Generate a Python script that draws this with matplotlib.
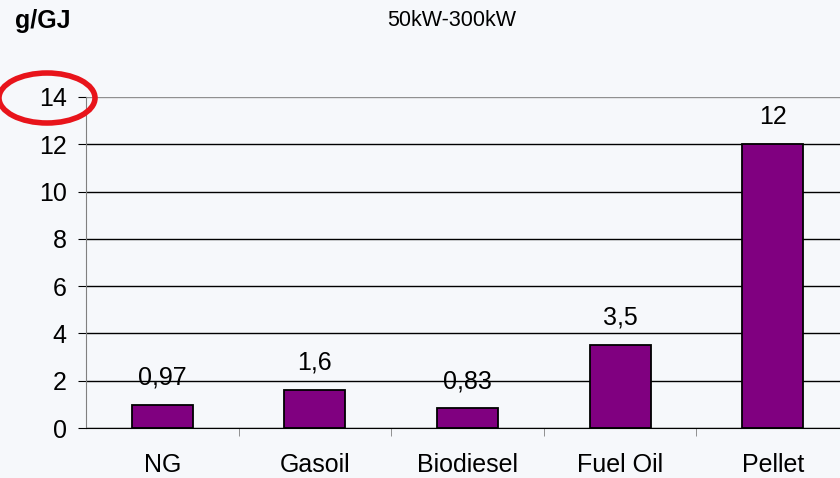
import matplotlib.pyplot as plt
from matplotlib.patches import Ellipse

# ===== data =====
fuels = ["NG", "Gasoil", "Biodiesel", "Fuel Oil", "Pellet"]
values = [0.97, 1.6, 0.83, 3.5, 12]
value_labels = [f"{v:g}".replace(".", ",") for v in values]
y_ticks = [0, 2, 4, 6, 8, 10, 12, 14]

plt.rcParams['font.family'] = ['Liberation Sans', 'DejaVu Sans']
FS = 18

W, H = 840, 478
fig = plt.figure(figsize=(W / 100, H / 100), dpi=100, facecolor='#f6f8fb')
ax = fig.add_axes([86 / W, 1 - 428 / H, (849 - 86) / W, (428 - 97) / H])
ax.set_facecolor('none')

x = list(range(len(fuels)))
bars = ax.bar(x, values, width=0.4, color='#800080', edgecolor='black', linewidth=1.3, zorder=3)
ax.bar_label(bars, labels=value_labels, padding=11, fontsize=FS)

ax.set_xlim(-0.5, len(fuels) - 0.5)
ax.set_ylim(0, 14)
ax.set_yticks(y_ticks)
ax.set_yticklabels([str(t) for t in y_ticks], fontsize=FS)
ax.set_xticks(x)
ax.set_xticklabels(fuels, fontsize=FS)
ax.set_xticks([i + 0.5 for i in x], minor=True)
ax.tick_params(axis='x', which='major', length=0, pad=18)
ax.tick_params(axis='x', which='minor', length=6, color='#808080')
ax.tick_params(axis='y', length=6, color='black', pad=8)

ax.yaxis.grid(True, color='black', linewidth=1, zorder=1)
ax.get_ygridlines()[-1].set_color('#909090')
ax.set_axisbelow(True)
for s in ['top', 'right']:
    ax.spines[s].set_visible(False)
ax.spines['left'].set_color('#808080')
ax.spines['bottom'].set_color('black')

fig.text(15 / W, 1 - 21 / H, "g/GJ", fontsize=FS, fontweight='bold', va='center', ha='left')
fig.text(452 / W, 1 - 20 / H, "50kW-300kW", fontsize=15.5, va='center', ha='center')

# red circle round the top tick label
ell = Ellipse((47, H - 98), 96, 50, transform=None, fill=False,
              edgecolor='#e8141b', linewidth=4, zorder=10)
fig.patches.append(ell)

fig.savefig("out.png", dpi=100, facecolor=fig.get_facecolor())
